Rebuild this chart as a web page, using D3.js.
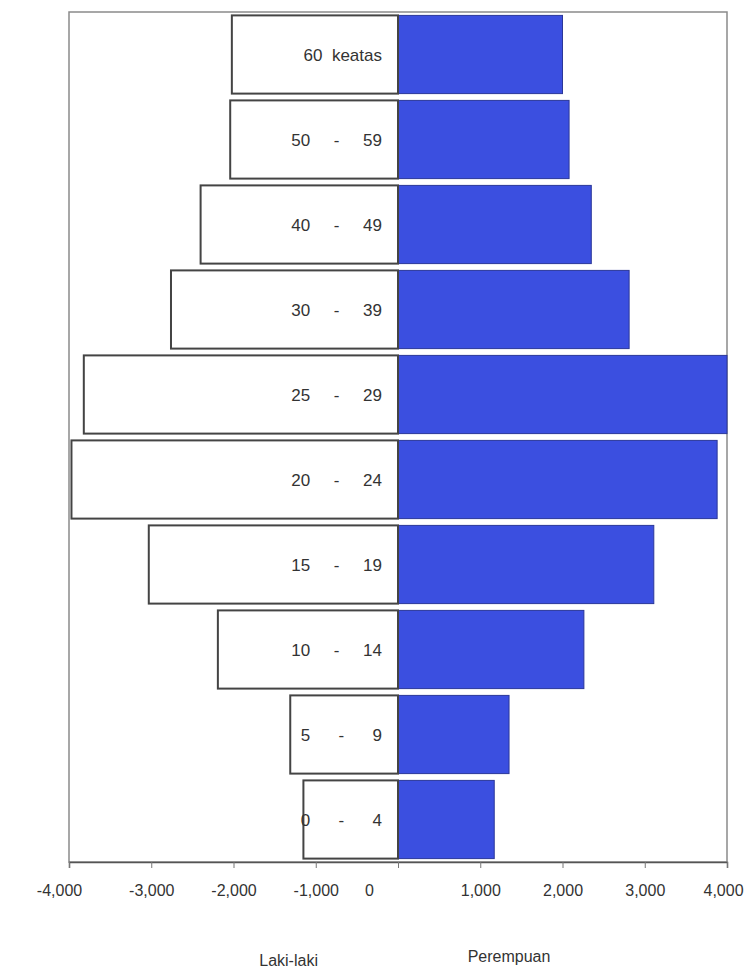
<!DOCTYPE html>
<html>
<head>
<meta charset="utf-8">
<script src="https://cdn.jsdelivr.net/npm/d3@7"></script>
<style>
  body { margin: 0; background: #fff; }
  text { font-family: "Liberation Sans", Arial, sans-serif; fill: #333; }
</style>
</head>
<body>
<div id="chart"></div>
<script>
// age groups, top to bottom
const ageGroups = ["60 keatas", "50 - 59", "40 - 49", "30 - 39", "25 - 29", "20 - 24", "15 - 19", "10 - 14", "5 - 9", "0 - 4"];
const ageLabels = ["60  keatas", "50     -     59", "40     -     49", "30     -     39", "25     -     29", "20     -     24", "15     -     19", "10     -     14", "5      -      9", "0      -      4"];
const lakiLaki = [2020, 2040, 2400, 2760, 3820, 3970, 3030, 2190, 1310, 1150];
const perempuan = [2000, 2080, 2350, 2810, 4000, 3880, 3110, 2260, 1350, 1170];
const tickValues = [-4000, -3000, -2000, -1000, 0, 1000, 2000, 3000, 4000];
const seriesNames = ["Laki-laki", "Perempuan"];

const drawChart = () => {
  const width = 745;
  const height = 974;
  const margin = { top: 12, right: 18, bottom: 112, left: 69 };

  const svg = d3.select("#chart")
    .append("svg")
    .attr("width", width)
    .attr("height", height);

  const x = d3.scaleLinear()
    .domain([-4000, 4000])
    .range([margin.left, width - margin.right]);

  const y = d3.scaleBand()
    .domain(ageGroups)
    .range([margin.top, height - margin.bottom])
    .paddingInner(0.08)
    .paddingOuter(0.04);

  // plot frame
  svg.append("rect")
    .attr("x", x(-4000))
    .attr("y", margin.top)
    .attr("width", x(4000) - x(-4000))
    .attr("height", height - margin.bottom - margin.top)
    .attr("fill", "none")
    .attr("stroke", "#8a8a8a")
    .attr("stroke-width", 1.5);

  const rows = ageGroups.map((g, i) => ({ group: g, label: ageLabels[i], m: lakiLaki[i], f: perempuan[i] }));

  // female bars (right)
  svg.selectAll("rect.f")
    .data(rows)
    .enter()
    .append("rect")
    .attr("class", "f")
    .attr("x", x(0))
    .attr("y", d => y(d.group))
    .attr("width", d => x(d.f) - x(0))
    .attr("height", y.bandwidth())
    .attr("fill", "#3b4fe0")
    .attr("stroke", "#2b3799")
    .attr("stroke-width", 1);

  // male bars (left)
  svg.selectAll("rect.m")
    .data(rows)
    .enter()
    .append("rect")
    .attr("class", "m")
    .attr("x", d => x(-d.m))
    .attr("y", d => y(d.group))
    .attr("width", d => x(0) - x(-d.m))
    .attr("height", y.bandwidth())
    .attr("fill", "#fff")
    .attr("stroke", "#444")
    .attr("stroke-width", 2);

  // age labels inside male bars
  svg.selectAll("text.age")
    .data(rows)
    .enter()
    .append("text")
    .attr("class", "age")
    .attr("x", x(0) - 16)
    .attr("y", d => y(d.group) + y.bandwidth() / 2)
    .attr("dy", "0.36em")
    .attr("text-anchor", "end")
    .style("white-space", "pre")
    .style("font-size", "17px")
    .text(d => d.label);

  // x axis, plain hyphen for negatives
  const fmt = d => d3.format(",")(d).replace("\u2212", "-");
  const axis = svg.append("g")
    .attr("transform", `translate(0,${height - margin.bottom})`)
    .call(d3.axisBottom(x)
      .tickValues(tickValues)
      .tickSize(6)
      .tickPadding(17)
      .tickFormat(fmt));

  axis.select(".domain").attr("stroke", "#555").attr("stroke-width", 1.5);
  axis.selectAll(".tick line").attr("stroke", "#777");
  axis.selectAll(".tick text")
    .style("font-size", "16px")
    .style("font-family", "'Liberation Sans', Arial, sans-serif")
    .attr("fill", "#333")
    .attr("dx", d => d === 0 ? -29 : d === -4000 ? -10 : d === 4000 ? -4 : 0);

  // series labels
  svg.selectAll("text.series")
    .data(seriesNames)
    .enter()
    .append("text")
    .attr("class", "series")
    .attr("x", (d, i) => i === 0 ? x(-1330) : x(1350))
    .attr("y", (d, i) => i === 0 ? 966 : 962)
    .attr("text-anchor", "middle")
    .style("font-size", "16px")
    .text(d => d);
};

drawChart();
</script>
</body>
</html>
